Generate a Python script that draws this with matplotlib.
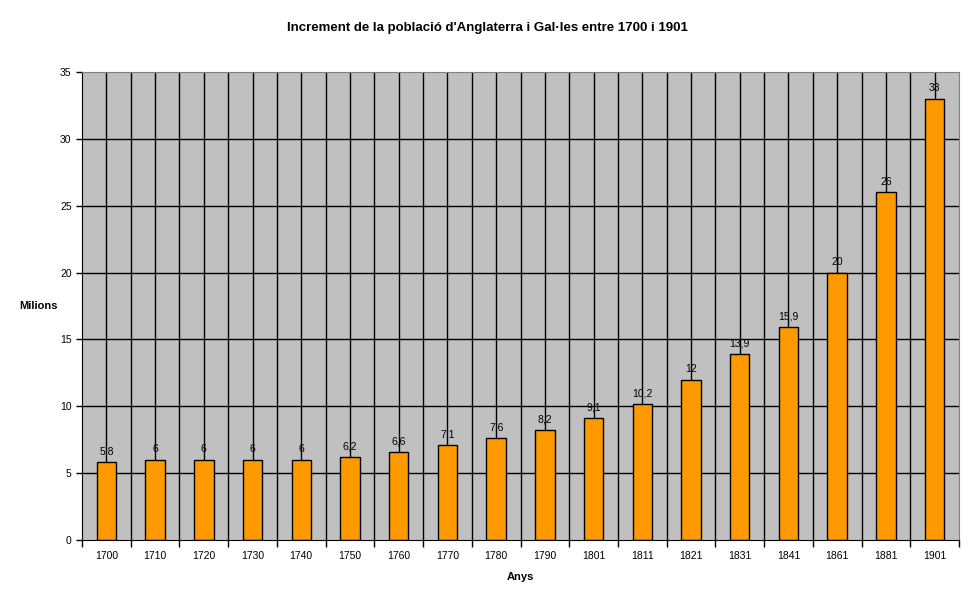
import matplotlib.pyplot as plt
from matplotlib.ticker import MultipleLocator, FixedLocator

years = ["1700", "1710", "1720", "1730", "1740", "1750", "1760", "1770", "1780",
         "1790", "1801", "1811", "1821", "1831", "1841", "1861", "1881", "1901"]
population = [5.8, 6, 6, 6, 6, 6.2, 6.6, 7.1, 7.6, 8.2, 9.1, 10.2, 12, 13.9,
              15.9, 20, 26, 33]

plt.rcParams['font.family'] = ['Liberation Sans', 'DejaVu Sans']

fig = plt.figure(figsize=(9.74, 6.04), dpi=100)
ax = fig.add_axes([82 / 974, 1 - 540 / 604, (959 - 82) / 974, (540 - 72) / 604])
ax.set_facecolor('#c0c0c0')

n = len(years)
x = list(range(n))

# grid: horizontal every 5, vertical at centres and boundaries
ax.set_xlim(-0.5, n - 0.5)
ax.set_ylim(0, 35)
ax.yaxis.set_major_locator(MultipleLocator(5))
for v in range(5, 35, 5):
    ax.axhline(v, color='black', lw=1, zorder=1)
for i in range(n):
    ax.axvline(i, color='black', lw=1, zorder=1)
    if i > 0:
        ax.axvline(i - 0.5, color='black', lw=1, zorder=1)

ax.bar(x, population, width=0.4, color='#ff9900', edgecolor='black', lw=1, zorder=2)

for xi, v in zip(x, population):
    lbl = ("%g" % v).replace('.', ',')
    ax.annotate(lbl, (xi, v), xytext=(0, 4), textcoords='offset points',
                ha='center', va='bottom', fontsize=7.5, zorder=3)

ax.xaxis.set_major_locator(FixedLocator(x))
ax.set_xticklabels(years, fontsize=7.5)
ax.tick_params(axis='x', length=0, pad=8)
ax.xaxis.set_minor_locator(FixedLocator([i - 0.5 for i in range(n + 1)]))
ax.tick_params(axis='x', which='minor', length=5, width=1, color='black')
ax.tick_params(axis='y', labelsize=7.5, length=4, width=1, color='black')

for side in ['top', 'right']:
    ax.spines[side].set_color('#808080')
for side in ['left', 'bottom']:
    ax.spines[side].set_color('black')

fig.text(487 / 974, 1 - 28 / 604, "Increment de la població d'Anglaterra i Gal·les entre 1700 i 1901",
         ha='center', va='center', fontsize=9.5, fontweight='bold')
fig.text(38 / 974, 1 - 306 / 604, "Milions", ha='center', va='center',
         fontsize=8, fontweight='bold')
fig.text(520 / 974, 1 - 577 / 604, "Anys", ha='center', va='center',
         fontsize=8, fontweight='bold')

fig.savefig("out.png", dpi=100)
